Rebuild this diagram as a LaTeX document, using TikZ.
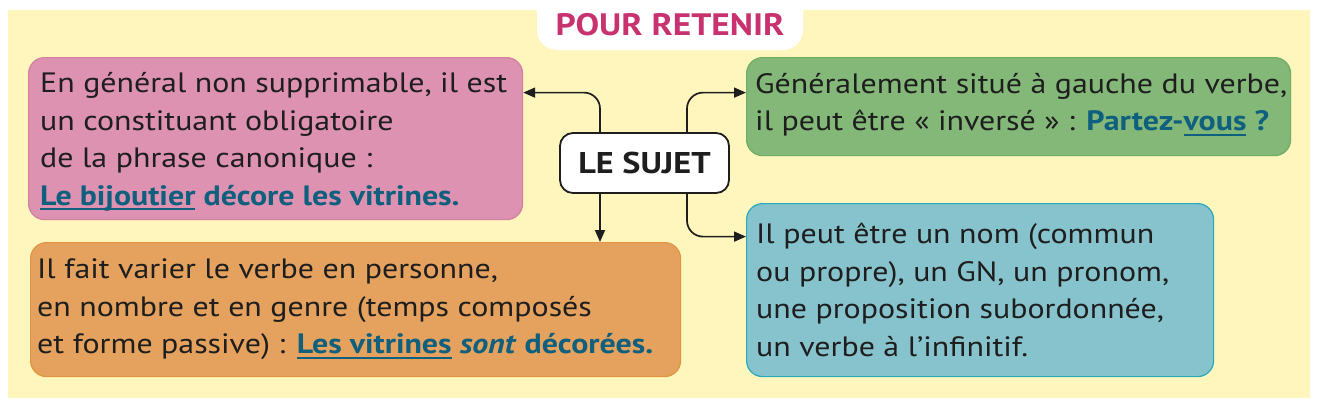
\documentclass[tikz,border=0pt]{standalone}
\usepackage{fontspec}
\setmainfont{PT Sans}[FakeStretch=1.14]
\usetikzlibrary{arrows.meta,calc}
\definecolor{bgyellow}{HTML}{FFF6BE}
\definecolor{pinkfill}{HTML}{DC92B0}
\definecolor{pinkdraw}{HTML}{D27FA2}
\definecolor{orfill}{HTML}{E4A25E}
\definecolor{ordraw}{HTML}{E2953F}
\definecolor{grfill}{HTML}{83B878}
\definecolor{grdraw}{HTML}{6DAE61}
\definecolor{blfill}{HTML}{87C3CD}
\definecolor{bldraw}{HTML}{28AABD}
\definecolor{titlepink}{HTML}{C8336F}
\definecolor{exblue}{HTML}{0F5F7E}
\definecolor{ink}{HTML}{1E1E1E}
\newsavebox\ulbox
\newcommand\myul[1]{\sbox\ulbox{#1}\rlap{\raisebox{-5pt}{\color{exblue}\rule{\wd\ulbox}{1.8pt}}}\usebox\ulbox}
\newcommand\ex[1]{{\color{exblue}\bfseries #1}}
\begin{document}
\begin{tikzpicture}[x=1pt,y=-1pt,
  box/.style={rounded corners=16pt, line width=1.2pt, anchor=north west, inner sep=0pt},
  txt/.style={anchor=west, align=left, inner sep=0pt, text=ink, font=\fontsize{28}{37.5}\selectfont},
  arr/.style={draw=ink, line width=1.7pt, rounded corners=16pt, -{Triangle[length=12pt,width=10pt]}},
  center/.style={draw=ink, line width=1.8pt, fill=white, text=ink, rounded corners=13pt, minimum width=169pt, minimum height=60pt, inner sep=0pt, font=\fontsize{30}{30}\selectfont\bfseries}
]
\useasboundingbox (0,0) rectangle (1320,408);
\fill[bgyellow] (8,10) rectangle (1310,398);
\fill[white, rounded corners=20pt] (537,-20) rectangle (803,50);
\node[font=\fontsize{31}{31}\selectfont\bfseries, text=titlepink] (title) at (670,25) {POUR RETENIR};

\node[box, fill=pinkfill, draw=pinkdraw, minimum width=494pt, minimum height=162pt] (pink) at (28,57) {};
\node[box, fill=orfill, draw=ordraw, minimum width=650pt, minimum height=134pt] (orange) at (30,242) {};
\node[box, fill=grfill, draw=grdraw, minimum width=544pt, minimum height=98pt] (green) at (746,57) {};
\node[box, fill=blfill, draw=bldraw, minimum width=467pt, minimum height=173pt] (blue) at (746,203) {};
\node[center] (sujet) at (644.5,163) {LE SUJET};

\node[txt] (pinktxt) at ([xshift=12pt,yshift=-3pt]pink.west) {En général non supprimable, il est\\un constituant obligatoire\\de la phrase canonique :\\\ex{\myul{Le bijoutier} décore les vitrines.}};
\node[txt] (ortxt) at ([xshift=7pt]orange.west) {Il fait varier le verbe en personne,\\en nombre et en genre (temps composés\\et forme passive) : \ex{\myul{Les vitrines} \textit{sont} décorées.}};
\node[txt] (grtxt) at ([xshift=9pt,yshift=2pt]green.west) {Généralement situé à gauche du verbe,\\il peut être « inversé » : \ex{Partez-\myul{vous} ?}};
\node[txt] (bltxt) at ([xshift=10pt]blue.west) {Il peut être un nom (commun\\ou propre), un GN, un pronom,\\une proposition subordonnée,\\un verbe à l’infinitif.};

\draw[arr] ([xshift=-44.5pt]sujet.north) |- ([yshift=46pt]pink.east);
\draw[arr] ([xshift=42.5pt]sujet.north) |- ([yshift=14pt]green.west);
\draw[arr] ([xshift=-44.5pt]sujet.south) -- ([xshift=-44.5pt]sujet.south |- orange.north);
\draw[arr] ([xshift=42.5pt]sujet.south) |- ([yshift=53.5pt]blue.west);
\end{tikzpicture}
\end{document}
